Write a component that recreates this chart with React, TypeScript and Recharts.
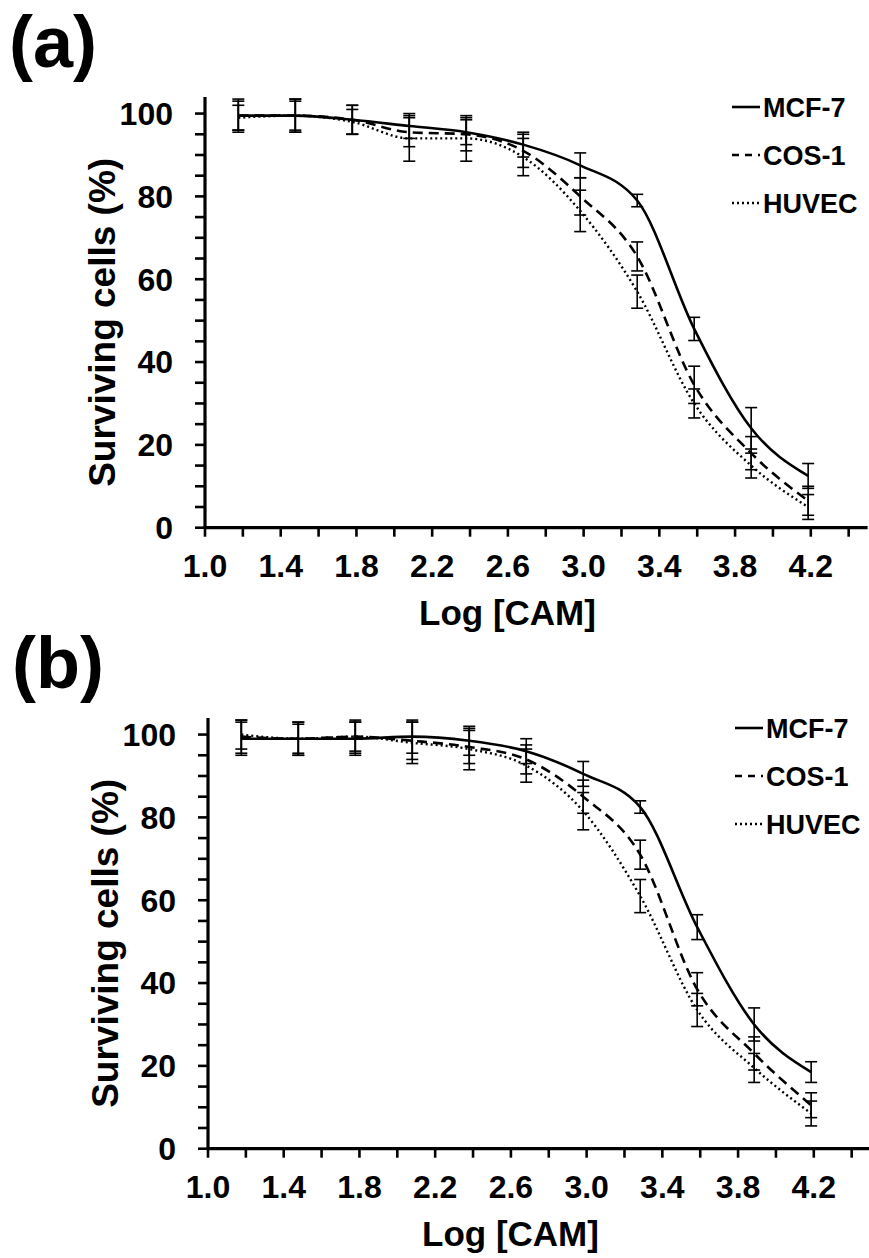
import React from 'react';
import { LineChart, Line, XAxis, YAxis, ErrorBar } from 'recharts';

// ---- data ----
const logCAM = [1.176, 1.477, 1.778, 2.079, 2.38, 2.681, 2.982, 3.283, 3.584, 3.885, 4.186];

// panel (a)
const mcfA = [99.5, 99.5, 98.5, 97, 95.5, 92.5, 87.5, 79, 48, 24, 12.5];
const cosA = [99.5, 99.5, 98.5, 95.5, 95, 91, 80, 65.5, 34.5, 18, 6.5];
const huvecA = [99, 99.5, 98, 94, 94, 89.5, 76.5, 57, 30, 15, 5];
const mcfAErr = [4, 4, 3.5, 3, 3, 3, 3, 1.5, 2.8, 5, 3];
const cosAErr = [3.5, 4, 3.5, 3.5, 4, 4, 4.5, 3.5, 4.5, 4, 3.5];
const huvecAErr = [3, 3.5, 3, 5.5, 5.5, 4.5, 5, 4, 3.5, 3, 3];

// panel (b)
const mcfB = [99, 99, 99, 99.5, 98.5, 96, 90.5, 82.5, 53.5, 30, 18.5];
const cosB = [99.5, 99, 99.5, 98.5, 97, 94, 85, 71, 38.5, 23, 10.5];
const huvecB = [100, 99, 99.5, 98, 96.5, 92.5, 81.5, 61, 33.5, 19.5, 8.5];
const mcfBErr = [4, 4, 4, 4, 3.5, 3, 3, 1.5, 3, 4, 2.5];
const cosBErr = [4, 4, 4, 4.5, 4, 3.5, 4, 3.5, 4, 4, 3];
const huvecBErr = [3.5, 3.5, 3.5, 5, 5, 4, 4.5, 4, 4, 3.5, 3];

const xTicks = [1.0, 1.2, 1.4, 1.6, 1.8, 2.0, 2.2, 2.4, 2.6, 2.8, 3.0, 3.2, 3.4, 3.6, 3.8, 4.0, 4.2, 4.4];
const xTickLabels = ['1.0', '1.4', '1.8', '2.2', '2.6', '3.0', '3.4', '3.8', '4.2'];
const yTicks = [0, 5, 10, 15, 20, 25, 30, 35, 40, 45, 50, 55, 60, 65, 70, 75, 80, 85, 90, 95, 100];
const yTickLabels = ['0', '20', '40', '60', '80', '100'];

const seriesNames = ['MCF-7', 'COS-1', 'HUVEC'];

const FONT = '"Liberation Sans", Arial, Helvetica, sans-serif';

const seriesStyle = [
  { key: 'mcf', err: 'mcfErr', dash: undefined as string | undefined, width: 2.6, legendDash: undefined as string | undefined },
  { key: 'cos', err: 'cosErr', dash: '10 6', width: 2.6, legendDash: '7 6' },
  { key: 'huvec', err: 'huvecErr', dash: '2 3', width: 2.4, legendDash: '2 3' },
];

function buildData(m: number[], c: number[], h: number[], me: number[], ce: number[], he: number[]) {
  return logCAM.map((x, i) => ({
    x,
    mcf: m[i],
    cos: c[i],
    huvec: h[i],
    mcfErr: me[i],
    cosErr: ce[i],
    huvecErr: he[i],
  }));
}

const dataA = buildData(mcfA, cosA, huvecA, mcfAErr, cosAErr, huvecAErr);
const dataB = buildData(mcfB, cosB, huvecB, mcfBErr, cosBErr, huvecBErr);

const XTick = (props: any) => {
  const { x, y, payload } = props;
  const label = Number(payload.value).toFixed(1);
  if (!xTickLabels.includes(label)) return <g />;
  return (
    <text x={x} y={y} dy="0.71em" textAnchor="middle" fontFamily={FONT} fontWeight="bold" fontSize={32} fill="#000">
      {label}
    </text>
  );
};

const YTick = (props: any) => {
  const { x, y, payload } = props;
  const label = String(payload.value);
  if (!yTickLabels.includes(label)) return <g />;
  return (
    <text x={x} y={y} dy="0.355em" textAnchor="end" fontFamily={FONT} fontWeight="bold" fontSize={32} fill="#000">
      {label}
    </text>
  );
};

const LegendBox = () => (
  <svg width={140} height={135} style={{ position: 'absolute', left: 732, top: 90 }}>
    {seriesStyle.map((s, i) => {
      const cy = 17 + i * 48;
      return (
        <g key={s.key}>
          <line x1={0} x2={28} y1={cy} y2={cy} stroke="#000" strokeWidth={s.width} strokeDasharray={s.legendDash} />
          <text x={31} y={cy} dy="0.355em" fontFamily={FONT} fontWeight="bold" fontSize={27} fill="#000">
            {seriesNames[i]}
          </text>
        </g>
      );
    })}
  </svg>
);

const Panel = ({ data, letter }: { data: any[]; letter: string }) => (
  <div style={{ position: 'relative', width: 869, height: 645 }}>
    <LineChart width={869} height={645} data={data} margin={{ top: 97, right: 1.4, bottom: 57.3, left: 145 }}>
      <XAxis
        dataKey="x"
        type="number"
        domain={[1, 4.5]}
        ticks={xTicks}
        interval={0}
        allowDataOverflow
        height={60}
        tickSize={9}
        tickMargin={18}
        tick={<XTick />}
        axisLine={{ stroke: '#000', strokeWidth: 3.2 }}
        tickLine={{ stroke: '#000', strokeWidth: 2.6 }}
        label={{
          content: (p: any) => {
            const vb = p.viewBox;
            return (
              <text x={vb.x + 302.5} y={vb.y + 97} textAnchor="middle" fontFamily={FONT} fontWeight="bold" fontSize={35} fill="#000">
                Log [CAM]
              </text>
            );
          },
        }}
      />
      <YAxis
        type="number"
        domain={[0, 104]}
        ticks={yTicks}
        interval={0}
        allowDataOverflow
        width={60}
        tickSize={10}
        tickMargin={22}
        tick={<YTick />}
        axisLine={{ stroke: '#000', strokeWidth: 3.2 }}
        tickLine={{ stroke: '#000', strokeWidth: 2.6 }}
        label={{
          content: (p: any) => {
            const vb = p.viewBox;
            const lx = vb.x - 30;
            const ly = vb.y + vb.height / 2 + 10;
            return (
              <text x={lx} y={ly} transform={`rotate(-90, ${lx}, ${ly})`} textAnchor="middle" fontFamily={FONT} fontWeight="bold" fontSize={37} fill="#000">
                Surviving cells (%)
              </text>
            );
          },
        }}
      />
      {seriesStyle.map((s, i) => (
        <Line
          key={s.key}
          type="monotone"
          dataKey={s.key}
          name={seriesNames[i]}
          stroke="#000"
          strokeWidth={s.width}
          strokeDasharray={s.dash}
          dot={false}
          activeDot={false}
          isAnimationActive={false}
        >
          <ErrorBar dataKey={s.err} direction="y" width={6} stroke="#000" strokeWidth={1.6} isAnimationActive={false} />
        </Line>
      ))}
    </LineChart>
    <svg width={200} height={90} style={{ position: 'absolute', left: 0, top: 0 }}>
      <text x={9} y={66.5} fontFamily={FONT} fontWeight="bold" fontSize={72} fill="#000">
        {letter}
      </text>
    </svg>
    <LegendBox />
  </div>
);

export default function App() {
  return (
    <div style={{ position: 'absolute', left: 0, top: 0, width: 869, height: 1258, background: '#fff', overflow: 'hidden' }}>
      <div style={{ position: 'absolute', left: 0, top: 0 }}>
        <Panel data={dataA} letter="(a)" />
      </div>
      <div style={{ position: 'absolute', left: 3.4, top: 621.4 }}>
        <Panel data={dataB} letter="(b)" />
      </div>
    </div>
  );
}
